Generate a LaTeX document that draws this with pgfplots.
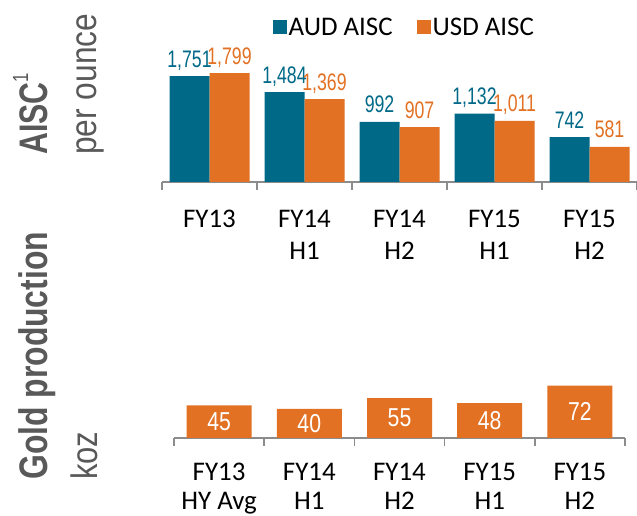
\documentclass[border=0pt]{standalone}
\usepackage{fontspec}
\setmainfont{Carlito}
\newfontfamily\lab{Liberation Sans}
\newfontfamily\numf{Liberation Sans}[FakeStretch=0.74]
\newfontfamily\numw{Liberation Sans}[FakeStretch=0.82]
\usepackage{pgfplots}
\pgfplotsset{compat=1.18}
\definecolor{audc}{RGB}{0,105,136}
\definecolor{usdc}{RGB}{226,113,36}
\definecolor{labgray}{RGB}{89,89,89}
\definecolor{axgray}{RGB}{140,140,140}
\pgfplotstableread{
x aud usd
0 1751 1799
1 1484 1369
2 992 907
3 1132 1011
4 742 581
}\aisc
\pgfplotstableread{
x v
0 45
1 40
2 55
3 48
4 72
}\prod
\begin{document}
\begin{tikzpicture}[x=1bp,y=1bp]
\useasboundingbox (0,0) rectangle (637,516);
\fill[white] (0,0) rectangle (637,516);
% left labels
\node[rotate=90, anchor=base west, text=labgray, inner sep=0pt, font=\lab\bfseries\fontsize{40}{40}\selectfont] at (47,361) {\scalebox{0.76}[1]{AISC\raisebox{19bp}{\mdseries\fontsize{22}{22}\selectfont 1}}};
\node[rotate=90, anchor=base west, text=labgray, inner sep=0pt, font=\lab\fontsize{37}{37}\selectfont] at (96,361) {\scalebox{0.86}[1]{per ounce}};
\node[rotate=90, anchor=base west, text=labgray, inner sep=0pt, font=\lab\bfseries\fontsize{40}{40}\selectfont] at (47,36) {\scalebox{0.80}[1]{Gold production}};
\node[rotate=90, anchor=base west, text=labgray, inner sep=0pt, font=\lab\fontsize{37}{37}\selectfont] at (97,36) {\scalebox{0.84}[1]{koz}};
% top axis
\begin{axis}[
  at={(162bp,334bp)}, anchor=south west,
  scale only axis, x=95bp, y=0.0605bp,
  xmin=-0.5, xmax=4.5, ymin=0, ymax=2000,
  hide y axis, axis x line*=bottom,
  x axis line style={draw=axgray, line width=1.5bp, -},
  xtick={0,...,4},
  xticklabels={FY13,{FY14\\H1},{FY14\\H2},{FY15\\H1},{FY15\\H2}},
  major tick length=0pt, xtick pos=bottom, tick align=outside,
  xticklabel style={align=center, text=black, font=\fontsize{27}{32}\selectfont, yshift=-25bp},
  extra x ticks={-0.5,0.5,1.5,2.5,3.5,4.5},
  extra x tick labels={},
  extra x tick style={major tick length=8bp, tick style={draw=axgray, line width=1.5bp}},
  ybar=0pt, bar width=40bp,
  nodes near coords={\pgfmathprintnumber{\pgfplotspointmeta}},
  /pgf/number format/.cd, fixed, precision=0, 1000 sep={,}, assume math mode=true, /pgfplots/.cd,
  every node near coord/.append style={anchor=base, yshift=9bp, font=\numf\fontsize{24}{24}\selectfont, inner sep=0pt},
  legend style={at={(0.51,1.28)}, anchor=center, draw=none, fill=none,
    font=\fontsize{27}{27}\selectfont, legend columns=2,
    /tikz/every even column/.append style={column sep=22bp}},
  legend image code/.code={\fill[#1] (0bp,-7bp) rectangle (14bp,7bp);},
  clip=false,
]
\addplot[fill=audc, draw=none, nodes near coords style={text=audc}] table[x=x, y=aud] {\aisc};
\addplot[fill=usdc, draw=none, nodes near coords style={text=usdc}] table[x=x, y=usd] {\aisc};
\legend{AUD AISC, USD AISC}
\end{axis}
% bottom axis
\begin{axis}[
  at={(174bp,78bp)}, anchor=south west,
  scale only axis, x=90.2bp, y=0.727bp,
  xmin=-0.5, xmax=4.5, ymin=0, ymax=100,
  hide y axis, axis x line*=bottom,
  x axis line style={draw=axgray, line width=1.5bp, -},
  xtick={0,...,4},
  xticklabels={{FY13\\HY Avg},{FY14\\H1},{FY14\\H2},{FY15\\H1},{FY15\\H2}},
  major tick length=0pt, xtick pos=bottom, tick align=outside,
  xticklabel style={align=center, text=black, font=\fontsize{27}{29}\selectfont, inner sep=0pt, yshift=-25bp},
  extra x ticks={-0.5,0.5,1.5,2.5,3.5,4.5},
  extra x tick labels={},
  extra x tick style={major tick length=8bp, tick style={draw=axgray, line width=1.5bp}},
  ybar, bar width=65bp,
  /pgf/number format/assume math mode=true,
  clip=false,
]
\addplot[fill=usdc, draw=none,
  visualization depends on={\thisrow{v} \as \hv},
  nodes near coords,
  every node near coord/.append style={anchor=center, yshift={-0.3635*\hv}, text=white, font=\numw\fontsize{26}{26}\selectfont, inner sep=0pt}]
  table[x=x, y=v] {\prod};
\end{axis}
\end{tikzpicture}
\end{document}
